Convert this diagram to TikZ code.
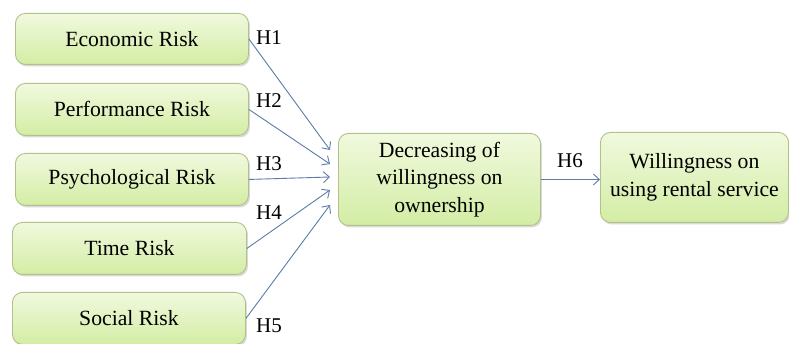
\documentclass[tikz,border=0pt]{standalone}
\usepackage{fontspec}
\setmainfont{Liberation Serif}
\usetikzlibrary{arrows.meta,shadows}
\definecolor{gtop}{HTML}{F1F9DE}
\definecolor{gbot}{HTML}{D3EDA4}
\definecolor{gborder}{HTML}{AFC28A}
\definecolor{arrowc}{HTML}{5B7BAA}
\tikzset{
  riskbox/.style={draw=gborder, line width=0.9pt, rounded corners=10pt,
    top color=gtop, bottom color=gbot, anchor=north west, inner sep=0pt,
    drop shadow={shadow xshift=1.5pt, shadow yshift=-2pt, opacity=0.25, fill=black!60},
    font=\fontsize{21.7}{27.5}\selectfont, align=center},
  conn/.style={draw=arrowc, line width=0.9pt, -{Straight Barb[length=6pt,width=11pt]}},
  hlabel/.style={font=\fontsize{21}{24}\selectfont, inner sep=0pt}
}
\begin{document}
\begin{tikzpicture}[x=1pt,y=-1pt]
\useasboundingbox (0,0) rectangle (789,344);
\node[riskbox, minimum width=233pt, minimum height=51pt] (econ) at (15,13) {Economic Risk};
\node[riskbox, minimum width=233pt, minimum height=52pt] (perf) at (15,83) {Performance Risk};
\node[riskbox, minimum width=233pt, minimum height=52pt] (psych) at (15,153) {Psychological Risk};
\node[riskbox, minimum width=234pt, minimum height=52pt] (time) at (12,222) {Time Risk};
\node[riskbox, minimum width=233pt, minimum height=52pt] (social) at (12,292) {Social Risk};
\node[riskbox, minimum width=202pt, minimum height=92pt] (dec) at (338,133) {Decreasing of\\ willingness on\\ ownership};
\node[riskbox, minimum width=188pt, minimum height=90pt] (will) at (600,132) {Willingness on\\ using rental service};
\coordinate (t1) at (330,150);
\coordinate (t2) at (330,164);
\coordinate (t3) at (330,177);
\coordinate (t4) at (330,190);
\coordinate (t5) at (330,205);
\draw[conn] (econ.east) -- (t1);
\draw[conn] (perf.east) -- (t2);
\draw[conn] (psych.east) -- (t3);
\draw[conn] (time.east) -- (t4);
\draw[conn] (social.east) -- (t5);
\draw[conn] (dec.east) -- (dec.east -| will.west);
\node[hlabel, anchor=west] (h1) at (256,38) {H1};
\node[hlabel, anchor=west] (h2) at (256,101) {H2};
\node[hlabel, anchor=west] (h3) at (256,164) {H3};
\node[hlabel, anchor=west] (h4) at (256,213) {H4};
\node[hlabel, anchor=west] (h5) at (256,326) {H5};
\node[hlabel, anchor=west] (h6) at (557,161) {H6};
\end{tikzpicture}
\end{document}
